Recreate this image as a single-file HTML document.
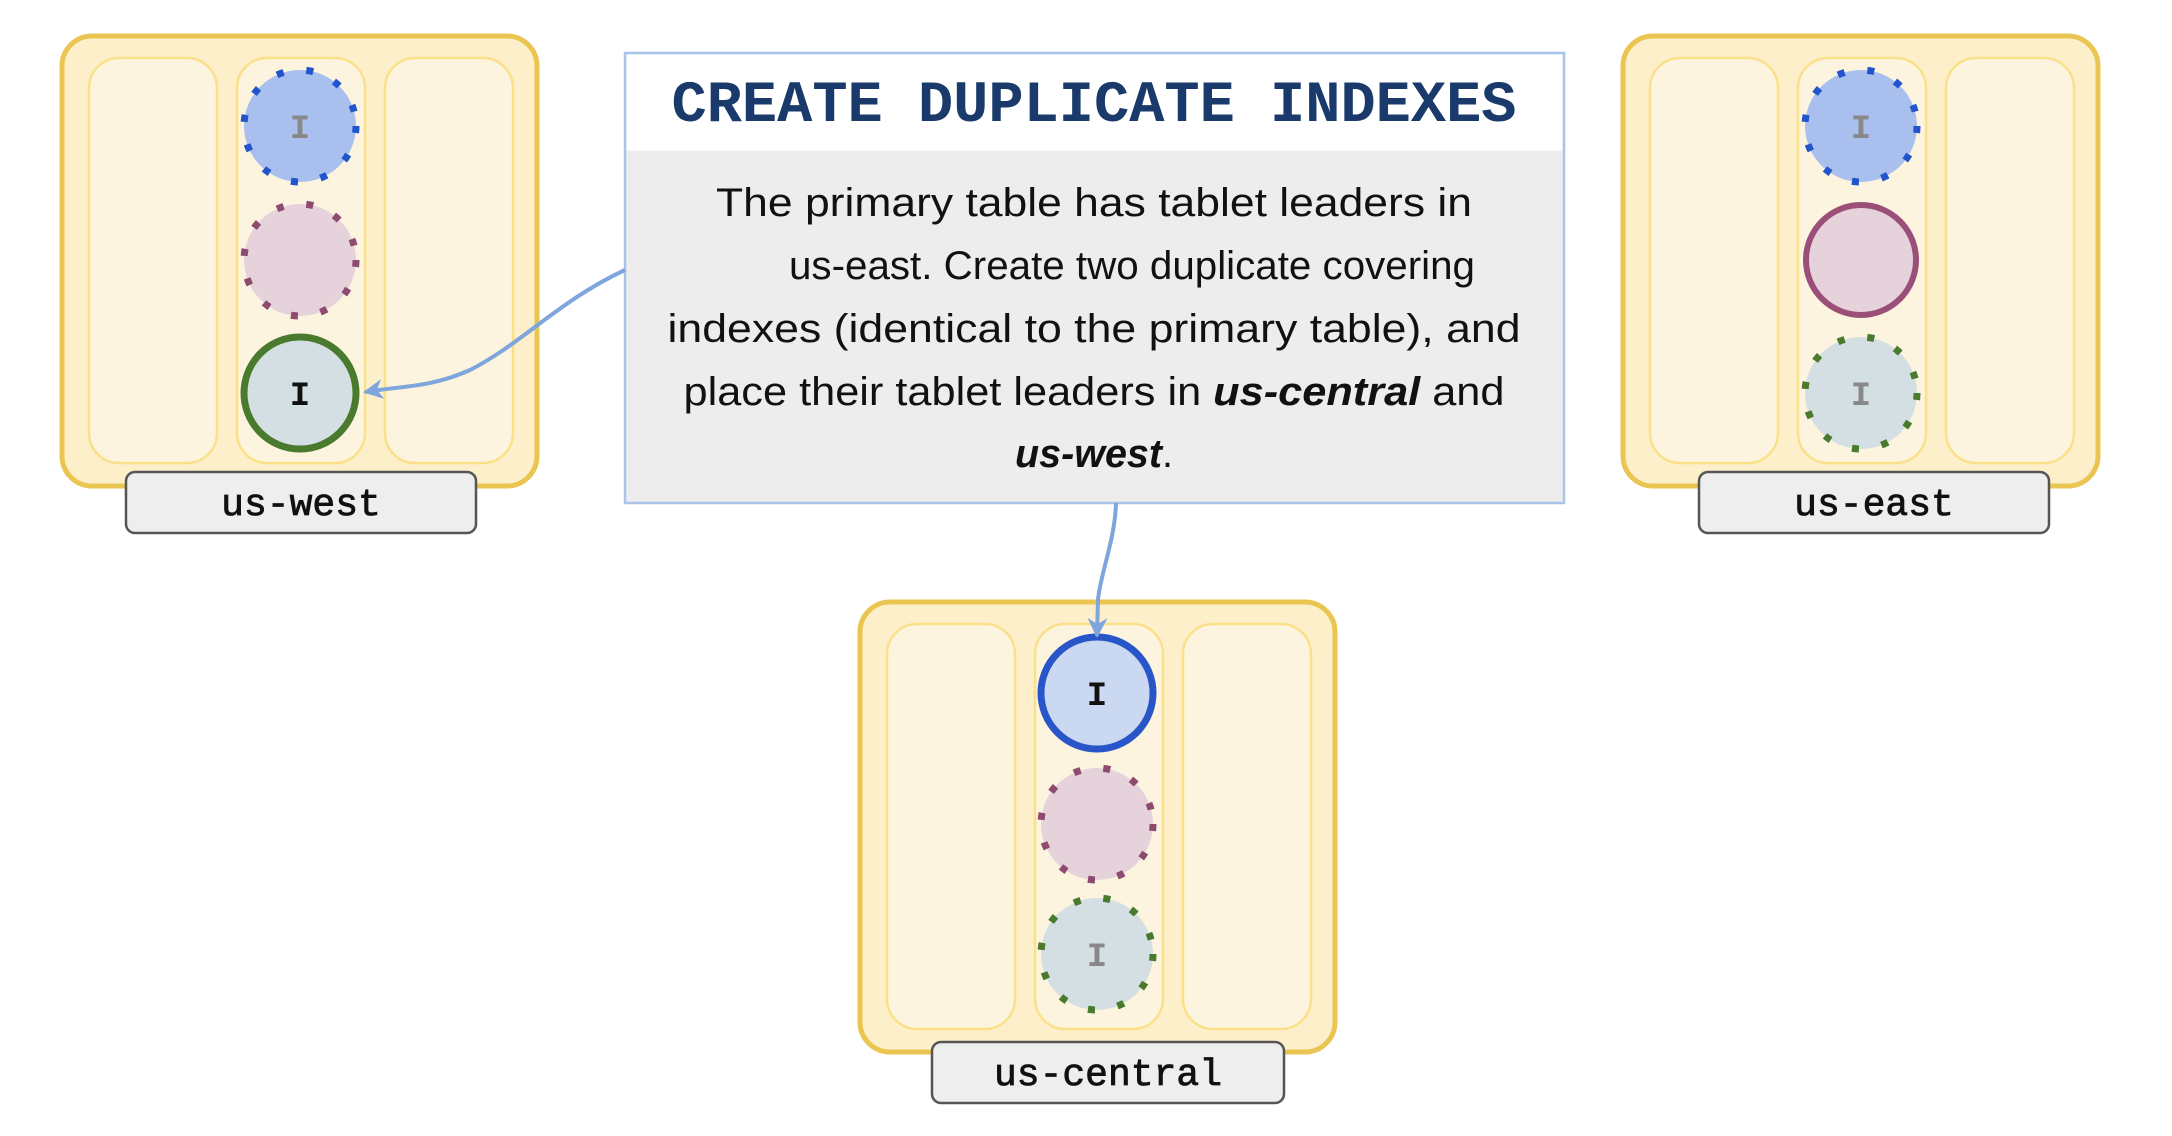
<!DOCTYPE html>
<html><head><meta charset="utf-8"><style>html,body{margin:0;padding:0;background:#fff}svg{display:block}</style></head><body>
<svg width="2172" height="1136" viewBox="0 0 2172 1136" xmlns="http://www.w3.org/2000/svg">
<defs>
<g id="region">
  <rect x="0" y="0" width="475" height="450" rx="30" fill="#fcefc9" stroke="#ebc552" stroke-width="5"/>
  <rect x="27" y="22" width="128" height="405" rx="30" fill="#fcf4df" stroke="#fbe08a" stroke-width="2.5"/>
  <rect x="175" y="22" width="128" height="405" rx="30" fill="#fcf4df" stroke="#fbe08a" stroke-width="2.5"/>
  <rect x="323" y="22" width="128" height="405" rx="30" fill="#fcf4df" stroke="#fbe08a" stroke-width="2.5"/>
</g>
<marker id="ah" viewBox="0 0 10 10" refX="9" refY="5" markerWidth="5" markerHeight="5" orient="auto-start-reverse" markerUnits="strokeWidth">
  <path d="M0,0 L10,5 L0,10 L3,5 z" fill="#7ea6dc"/>
</marker>
</defs>
<style>
.mono{font-family:"Liberation Mono",monospace;font-weight:bold}
.lbl{font-family:"Liberation Mono",monospace;font-weight:normal}
.body{font-family:"Liberation Sans",sans-serif;font-size:40px;fill:#111}
.dash{stroke-width:7;stroke-dasharray:7 23}
</style>

<!-- us-west -->
<g transform="translate(62,36)"><use href="#region"/></g>
<circle cx="300" cy="126" r="56" fill="#a9c0ee" stroke="#2255cc" class="dash"/>
<text x="300" y="138" text-anchor="middle" class="mono" font-size="34" fill="#888">I</text>
<circle cx="300" cy="260" r="56" fill="#e5d2da" stroke="#8e4b70" class="dash"/>
<circle cx="300" cy="393" r="56" fill="#d3dfe2" stroke="#4a7a2e" stroke-width="7"/>
<text x="300" y="405" text-anchor="middle" class="mono" font-size="34" fill="#111">I</text>
<rect x="126" y="472" width="350" height="61" rx="9" fill="#eeeeee" stroke="#555" stroke-width="2.5"/>
<text x="301" y="515" text-anchor="middle" class="lbl" font-size="38" fill="#111" stroke="#111" stroke-width="0.8">us-west</text>

<!-- us-east -->
<g transform="translate(1623,36)"><use href="#region"/></g>
<circle cx="1861" cy="126" r="56" fill="#a9c0ee" stroke="#2255cc" class="dash"/>
<text x="1861" y="138" text-anchor="middle" class="mono" font-size="34" fill="#888">I</text>
<circle cx="1861" cy="260" r="55" fill="#e5d2da" stroke="#9b4f78" stroke-width="6"/>
<circle cx="1861" cy="393" r="56" fill="#d3dfe2" stroke="#4a7a2e" class="dash"/>
<text x="1861" y="405" text-anchor="middle" class="mono" font-size="34" fill="#888">I</text>
<rect x="1699" y="472" width="350" height="61" rx="9" fill="#eeeeee" stroke="#555" stroke-width="2.5"/>
<text x="1874" y="515" text-anchor="middle" class="lbl" font-size="38" fill="#111" stroke="#111" stroke-width="0.8">us-east</text>

<!-- us-central -->
<g transform="translate(860,602)"><use href="#region"/></g>
<circle cx="1097" cy="693" r="56" fill="#cad8f2" stroke="#2855c8" stroke-width="7"/>
<text x="1097" y="705" text-anchor="middle" class="mono" font-size="34" fill="#111">I</text>
<circle cx="1097" cy="824" r="56" fill="#e5d2da" stroke="#8e4b70" class="dash"/>
<circle cx="1097" cy="954" r="56" fill="#d3dfe2" stroke="#4a7a2e" class="dash"/>
<text x="1097" y="966" text-anchor="middle" class="mono" font-size="34" fill="#888">I</text>
<rect x="932" y="1042" width="352" height="61" rx="9" fill="#eeeeee" stroke="#555" stroke-width="2.5"/>
<text x="1108" y="1085" text-anchor="middle" class="lbl" font-size="38" fill="#111" stroke="#111" stroke-width="0.8">us-central</text>

<!-- callout -->
<rect x="625" y="53" width="939" height="450" fill="#ededed" stroke="#a8c4e8" stroke-width="2.5"/>
<rect x="626.5" y="54.5" width="936" height="96" fill="#ffffff"/>
<text x="1094" y="121" text-anchor="middle" class="mono" font-size="58" fill="#1a3a6b" textLength="845" lengthAdjust="spacingAndGlyphs">CREATE DUPLICATE INDEXES</text>
<text x="1094" y="216" text-anchor="middle" class="body" textLength="756" lengthAdjust="spacingAndGlyphs">The primary table has tablet leaders in</text>
<text x="1132" y="279" text-anchor="middle" class="body" textLength="686" lengthAdjust="spacingAndGlyphs">us-east. Create two duplicate covering</text>
<text x="1094" y="342" text-anchor="middle" class="body" textLength="853" lengthAdjust="spacingAndGlyphs">indexes (identical to the primary table), and</text>
<text x="1094" y="405" text-anchor="middle" class="body" textLength="821" lengthAdjust="spacingAndGlyphs">place their tablet leaders in <tspan font-weight="bold" font-style="italic">us-central</tspan> and</text>
<text x="1094" y="467" text-anchor="middle" class="body" textLength="158" lengthAdjust="spacingAndGlyphs"><tspan font-weight="bold" font-style="italic">us-west</tspan>.</text>

<!-- connectors -->
<path d="M625,270 C560,300 520,345 470,370 C430,388 400,386 365,392" fill="none" stroke="#7ea6dc" stroke-width="4" marker-end="url(#ah)"/>
<path d="M1116,503 C1115,540 1100,575 1098,600 L1097,636" fill="none" stroke="#7ea6dc" stroke-width="4" marker-end="url(#ah)"/>
</svg>
</body></html>
